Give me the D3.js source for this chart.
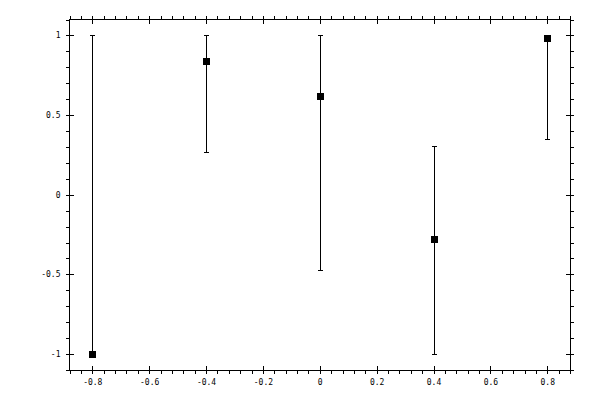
<!DOCTYPE html>
<html>
<head>
<meta charset="utf-8">
<script src="https://cdn.jsdelivr.net/npm/d3@7"></script>
<style>
  body { margin: 0; background: #fff; }
  svg { display: block; }
  line, rect { shape-rendering: crispEdges; }
  .tick text { font-family: "DejaVu Sans Mono", monospace; font-size: 8px; fill: #000; }
</style>
</head>
<body>
<div id="chart"></div>
<script>
// points with asymmetric error bars
const xValues = [-0.8, -0.4, 0, 0.4, 0.8];
const yValues = [-1, 0.84, 0.62, -0.28, 0.985];
const yLower = [-1, 0.27, -0.47, -1, 0.347];
const yUpper = [1, 1, 1, 0.307, 1];

const xMajorTicks = [-0.8, -0.6, -0.4, -0.2, 0, 0.2, 0.4, 0.6, 0.8];
const yMajorTicks = [-1, -0.5, 0, 0.5, 1];

const width = 600;
const height = 400;
const plotLeft = 69.5, plotRight = 570, plotTop = 19.5, plotBottom = 370;

const svg = d3.select("#chart").append("svg")
    .attr("width", width)
    .attr("height", height);

const x = d3.scaleLinear().domain([-0.88, 0.88]).range([plotLeft, plotRight]);
const y = d3.scaleLinear().domain([-1.1, 1.1]).range([plotBottom, plotTop]);

const xMinor = d3.range(-22, 23).map(i => i * 0.04);
const yMinor = d3.range(-11, 12).map(i => i / 10);

const fmt = d => String(+d.toFixed(2));

/**
 * Dibuja un eje con marcas mayores hacia fuera y hacia dentro y marcas menores hacia fuera.
 */
function drawAxis(axisFn, scale, major, minor, transform, withLabels) {
    const g = svg.append("g").attr("transform", transform);
    g.append("g").call(axisFn(scale).tickValues(minor).tickSize(3.5).tickFormat(""));
    g.append("g").call(axisFn(scale).tickValues(major).tickSize(-4).tickFormat(""));
    g.append("g").call(axisFn(scale).tickValues(major).tickSize(4).tickPadding(withLabels ? 5 : 0)
        .tickFormat(withLabels ? fmt : ""));
    g.selectAll(".domain").remove();
    g.selectAll("line").attr("stroke", "#000").attr("stroke-width", 1);
}

drawAxis(d3.axisBottom, x, xMajorTicks, xMinor, `translate(0,${plotBottom})`, true);
drawAxis(d3.axisTop, x, xMajorTicks, xMinor, `translate(0,${plotTop})`, false);
drawAxis(d3.axisLeft, y, yMajorTicks, yMinor, `translate(${plotLeft},0)`, true);
drawAxis(d3.axisRight, y, yMajorTicks, yMinor, `translate(${plotRight},0)`, false);

svg.append("rect")
    .attr("x", plotLeft).attr("y", plotTop)
    .attr("width", plotRight - plotLeft).attr("height", plotBottom - plotTop)
    .attr("fill", "none").attr("stroke", "#000").attr("stroke-width", 1);

const pts = xValues.map((v, i) => ({ x: v, y: yValues[i], lo: yLower[i], hi: yUpper[i] }));

const bars = svg.append("g").attr("stroke", "#000").attr("stroke-width", 1);
bars.selectAll(".err")
    .data(pts).enter().append("line")
    .attr("x1", d => Math.round(x(d.x)) + 0.5).attr("x2", d => Math.round(x(d.x)) + 0.5)
    .attr("y1", d => y(d.lo)).attr("y2", d => y(d.hi));
bars.selectAll(".capHi")
    .data(pts).enter().append("line")
    .attr("x1", d => Math.round(x(d.x)) - 2).attr("x2", d => Math.round(x(d.x)) + 3)
    .attr("y1", d => Math.round(y(d.hi)) + 0.5).attr("y2", d => Math.round(y(d.hi)) + 0.5);
bars.selectAll(".capLo")
    .data(pts).enter().append("line")
    .attr("x1", d => Math.round(x(d.x)) - 2).attr("x2", d => Math.round(x(d.x)) + 3)
    .attr("y1", d => Math.round(y(d.lo)) + 0.5).attr("y2", d => Math.round(y(d.lo)) + 0.5);

svg.append("g").selectAll("rect")
    .data(pts).enter().append("rect")
    .attr("x", d => Math.round(x(d.x)) - 3)
    .attr("y", d => Math.round(y(d.y)) - 3)
    .attr("width", 7).attr("height", 7)
    .attr("fill", "#000");
</script>
</body>
</html>
